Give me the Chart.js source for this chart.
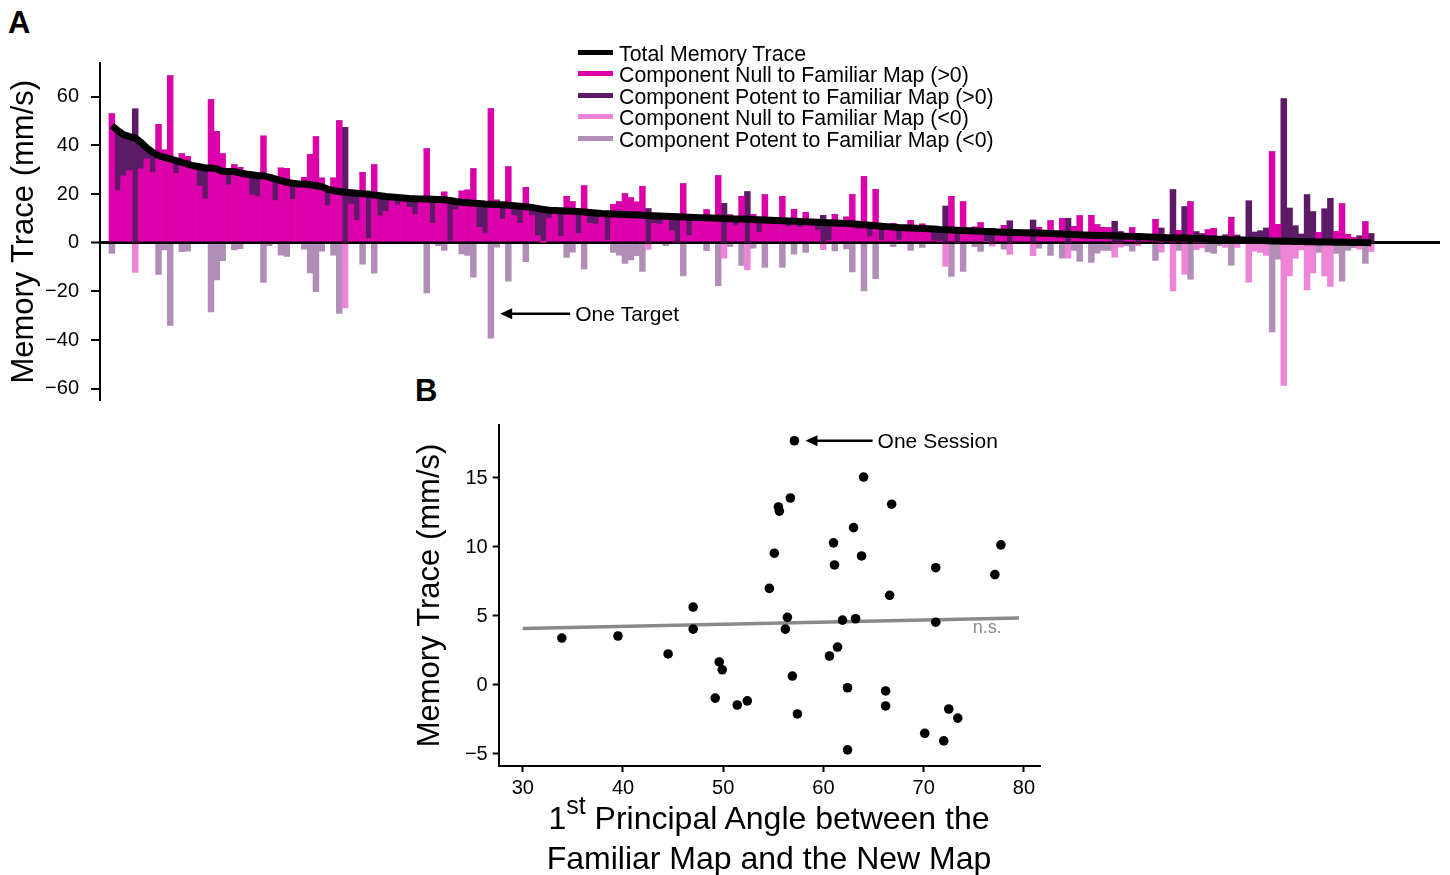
<!DOCTYPE html>
<html>
<head>
<meta charset="utf-8">
<title>Memory trace</title>
<script src="https://cdn.jsdelivr.net/npm/chart.js@4.4.1/dist/chart.umd.min.js"></script>
<style>
  html, body { margin: 0; padding: 0; background: #fff; }
  body { width: 1450px; height: 875px; overflow: hidden; position: relative;
         font-family: 'Liberation Sans', Arial, sans-serif; color: #000; }
  #chartA { position: absolute; left: 0; top: 0; }
  #chartB { position: absolute; left: 400px; top: 390px; }
  .letter { position: absolute; font-weight: bold; font-size: 31px; line-height: 1; }
  #legendA { position: absolute; left: 578px; top: 43.5px; font-size: 21.3px; line-height: 21.5px; }
  #legendA div { white-space: nowrap; }
  #legendA span.sw { display: inline-block; width: 35px; height: 5px; margin-right: 6px; vertical-align: 6px; }
  #xTitleB { position: absolute; left: 498px; width: 542px; top: 799px; text-align: center;
             font-size: 32px; line-height: 38px; white-space: nowrap; }
  #xTitleB sup { font-size: 25px; vertical-align: baseline; position: relative; top: -15px; }
</style>
</head>
<body>

<div class="letter" style="left:8px; top:7px;">A</div>
<div class="letter" style="left:415px; top:375px;">B</div>

<canvas id="chartA" width="1450" height="440"></canvas>
<canvas id="chartB" width="660" height="420"></canvas>

<div id="legendA"></div>
<div id="xTitleB"><span>1<sup>st</sup> Principal Angle between the</span><br><span>Familiar Map and the New Map</span></div>

<script>
// ---- panel A : one bar per target, sorted by total memory trace ----
var nullComp = [
  52.9, 21.4, 27.5, 29.6, -12.2, 30.3, 34.4, 28.9, 48.5, 38,
  68.5, 28.5, 36.5, 35.5, 31.6, 23.4, 18, 58.8, 45.6, 36.5,
  23.8, 32, 30.8, 28.2, 19.7, 18.9, 43.8, 28, 17.3, 30.6,
  30.4, 17.8, 22.7, 26.8, 36.2, 43.5, 26.5, 15.2, 26.5, 50,
  -26.8, 15.9, 9.3, 28.9, 1.8, 32, 11, 12.9, 18.8, 15.6,
  18.4, 14.5, 11.5, 18, 38.5, 8, 18.9, 20.8, 0.8, 13.6,
  21.2, 21.6, 30.3, 6.3, 3.8, 55, 17.5, 9.7, 31.2, 11.1,
  8, 22.6, 11.1, 2.9, 0.1, 10.1, 13.2, 2.6, 19, 16.8,
  3.8, 23.4, 7.9, 7.7, 12, 1.1, 15.8, 16.8, 20.1, 18.4,
  16.7, 23, -2.8, 7.9, 7.7, 12.1, 4.9, 0, 24.2, 2.9,
  10.4, 10.3, 13.5, 10.1, 27.6, -6.3, 11.4, 7, 19, -11.2,
  11.5, 4.2, 19.7, 9.2, 9.1, 18.9, 6.6, 13.6, 6.3, 12.5,
  8.5, 5.2, -2.9, 1, 11.5, 8, 10.5, 19.8, 5.6, 27.2,
  2.5, 21.8, 1.1, 6.6, 8, 1.1, 6.1, 9.2, 5.9, 7.7,
  5.7, 0.8, 0.4, -9.7, 19, 0, 16.8, 4.9, 6.4, 8.2,
  0.5, -1.4, 4.4, 7, -4.8, 4.2, 4.1, 4.1, -5.3, 6.2,
  3.9, 9, 3.7, 9.9, -6.4, 6.6, 11, 3.2, 11.1, 7.3,
  6.2, 6.1, -5.9, -1.8, 3.9, 6.1, -1.2, 2.4, 2.3, 9.5,
  -3.9, 2, -19.8, 5.1, -12.9, 16.8, -2.9, -2.1, 5.3, 5.9,
  2.6, -1.9, 10.4, -1.9, 1.1, -16.2, -3.5, -4, -5.2, 37.3,
  7.5, -58.6, -13.6, -6.4, -3, -19.4, -12.4, 4.3, -13.6, -17.9,
  4.6, 16, 3.4, 2.1, -2.7, 8.6, -3.7
];
var potentComp = [
  -4.4, 24.6, 16.9, 14, 55, 10.9, 4.5, 8.2, -13, -3,
  -34, 5.2, -3.7, -3.5, 0, 7.8, 12.7, -28.4, -15.3, -7.4,
  5.4, -3, -2.4, 0, 8.2, 8.6, -16.3, -1.2, 8.9, -5.1,
  -5.6, 6.6, 1.4, -2.7, -12.4, -20.1, -3.5, 6.8, -5.1, -29,
  47.4, 4.6, 11, -8.8, 18.2, -12.5, 8.3, 6.1, 0, 3,
  0, 3.7, 6.6, 0, -20.6, 9.8, -1.2, -3.2, 16.5, 3.3,
  -4.6, -5.2, -14.1, 9.8, 12.1, -39.2, -1.8, 5.9, -15.8, 4.1,
  7, -7.8, 3.4, 11.2, 13.6, 3.2, 0, 10.5, -6, -3.9,
  9, -10.8, 4.5, 4.5, 0, 10.8, -4, -5.1, -8.5, -7.1,
  -5.3, -11.8, 14, 3.2, 3.3, -1.2, 5.9, 10.7, -13.6, 7.6,
  0, 0, -3.3, 0, -17.6, 16.2, -1.6, 2.7, -9.3, 21,
  -2.2, 5.2, -10.1, 0, 0, -10.1, 2.3, -4.7, 2.4, -4,
  0, 3.2, 11.2, 7.2, -3.4, 0, -2.6, -12, 2, -19.8,
  4.7, -14.8, 5.7, 0, -1.6, 5.1, 0, -3.2, 0, -1.9,
  0, 4.8, 5, 15, -13.8, 5.1, -11.8, 0, -1.6, -3.6,
  4.1, 5.9, 0, -2.7, 9, 0, 0, 0, 9.3, -2.2,
  0, -5.2, 0, -6.3, 10, -3.2, -7.7, 0, -8.1, -4.3,
  -3.2, -3.2, 8.8, 4.6, -1.2, -3.5, 3.7, 0, 0, -7.3,
  6, 0, 21.8, -3.2, 14.8, -15, 4.6, 3.7, -3.8, -4.4,
  -1.2, 3.2, -9.2, 3.1, 0, 17.2, 4.4, 4.9, 6, -36.6,
  -6.8, 59.2, 14.2, 6.9, 3.5, 19.8, 12.8, -4, 13.9, 18.2,
  -4.4, -15.8, -3.2, -2, 2.8, -8.5, 3.7
];
var totalTrace = [
  48.1, 46, 44.4, 43.6, 43, 41.2, 38.9, 37.1, 35.8, 35,
  34.4, 33.7, 33, 32.3, 31.6, 31.2, 30.7, 30.7, 30.3, 29.3,
  29.2, 29.2, 28.6, 28.2, 27.9, 27.5, 27.5, 26.8, 26.2, 25.5,
  24.8, 24.4, 24.1, 24.1, 23.8, 23.4, 23, 22, 21.4, 21,
  20.7, 20.5, 20.3, 20.1, 20, 19.6, 19.3, 19, 18.8, 18.6,
  18.4, 18.2, 18.1, 18, 17.9, 17.8, 17.7, 17.6, 17.3, 16.9,
  16.6, 16.4, 16.2, 16.1, 15.9, 15.8, 15.7, 15.6, 15.4, 15.2,
  15, 14.8, 14.5, 14.1, 13.7, 13.3, 13.2, 13.1, 13, 12.9,
  12.8, 12.6, 12.4, 12.2, 12, 11.9, 11.8, 11.7, 11.6, 11.5,
  11.4, 11.3, 11.2, 11.1, 11, 10.9, 10.8, 10.7, 10.6, 10.5,
  10.4, 10.3, 10.2, 10.1, 10, 9.9, 9.8, 9.7, 9.7, 9.6,
  9.5, 9.4, 9.3, 9.2, 9.1, 9, 8.9, 8.8, 8.7, 8.6,
  8.5, 8.4, 8.3, 8.2, 8.1, 8, 7.9, 7.8, 7.6, 7.4,
  7.2, 7, 6.8, 6.6, 6.4, 6.2, 6.1, 6, 5.9, 5.8,
  5.7, 5.6, 5.4, 5.3, 5.2, 5.1, 5, 4.9, 4.8, 4.7,
  4.6, 4.5, 4.4, 4.3, 4.2, 4.2, 4.1, 4.1, 4, 4,
  3.9, 3.8, 3.7, 3.6, 3.5, 3.4, 3.3, 3.2, 3.1, 3,
  3, 2.9, 2.9, 2.8, 2.7, 2.6, 2.5, 2.4, 2.3, 2.2,
  2.1, 2, 2, 1.9, 1.9, 1.8, 1.7, 1.6, 1.5, 1.5,
  1.4, 1.3, 1.2, 1.2, 1.1, 1, 0.9, 0.9, 0.8, 0.7,
  0.7, 0.6, 0.6, 0.5, 0.5, 0.4, 0.4, 0.3, 0.3, 0.3,
  0.2, 0.2, 0.2, 0.1, 0.1, 0.1, 0
];
var yTicksA = [-60, -40, -20, 0, 20, 40, 60];

// ---- panel B : one point per session ----
var angleDeg = [33.9, 39.5, 44.5, 47.0, 47.0, 49.6, 49.9, 49.2, 51.4, 52.4,
                54.6, 55.1, 55.5, 55.6, 56.7, 57.1, 56.4, 56.2, 56.9, 57.4,
                60.6, 61.0, 61.1, 61.4, 61.9, 62.4, 62.4, 63.0, 63.2, 63.8,
                64.0, 66.2, 66.2, 66.6, 66.8, 70.1, 71.2, 71.2, 72.0, 72.5,
                73.4, 77.1, 77.7];
var sessionTrace = [3.4, 3.55, 2.25, 5.65, 4.05, 1.67, 1.1, -0.95, -1.45, -1.15,
                    7.0, 9.55, 12.9, 12.6, 13.55, 17.7, 4.9, 4.05, 0.65, -2.1,
                    2.1, 10.3, 8.7, 2.75, 4.7, -0.2, -4.7, 11.4, 4.8, 9.35,
                    15.07, -0.43, -1.52, 6.5, 13.1, -3.5, 8.5, 4.55, -4.05, -1.74,
                    -2.4, 8.0, 10.15];
var fitAngle = [30, 79.5];
var fitTrace = [4.1, 4.85];
var xTicksB = [30, 40, 50, 60, 70, 80];
var yTicksB = [-5, 0, 5, 10, 15];

var colNullPos = '#dc00ab';
var colPotentPos = '#5d1a66';
var colNullNeg = '#ee84d8';
var colPotentNeg = '#b08eb6';

Chart.defaults.font.family = "'Liberation Sans', Arial, sans-serif";
Chart.defaults.color = '#000';

// keep only one sign of a component, the other becomes 0 in the stack
function signPart(values, sign) {
  return values.map(function(v, i) {
    var keep = sign > 0 ? v > 0 : v < 0;
    return {x: i, y: keep ? v : 0};
  });
}

function fixedTicks(list) {
  return function(scale) {
    scale.ticks = list.map(function(v) { return {value: v}; });
  };
}

// real minus sign like the original figure
function minusLabel(v) {
  return String(v).replace('-', '\u2212');
}

// arrows and small labels placed in data coordinates
var notesPlugin = {
  id: 'notes',
  afterDraw: function(chart, args, opts) {
    var ctx = chart.ctx;
    var xs = chart.scales.x, ys = chart.scales.y;
    (opts.items || []).forEach(function(n) {
      var y = ys.getPixelForValue(n.y);
      var tx;
      ctx.save();
      if (n.tipX !== undefined) {
        var tip = xs.getPixelForValue(n.tipX);
        var tail = xs.getPixelForValue(n.tailX);
        ctx.strokeStyle = '#000';
        ctx.fillStyle = '#000';
        ctx.lineWidth = 2.5;
        ctx.beginPath();
        ctx.moveTo(tip + 8, y);
        ctx.lineTo(tail, y);
        ctx.stroke();
        ctx.beginPath();
        ctx.moveTo(tip, y);
        ctx.lineTo(tip + 12, y - 5.5);
        ctx.lineTo(tip + 12, y + 5.5);
        ctx.closePath();
        ctx.fill();
        tx = tail + 5;
      } else {
        tx = xs.getPixelForValue(n.x);
      }
      ctx.fillStyle = n.color || '#000';
      ctx.font = (n.size || 21) + "px 'Liberation Sans', Arial, sans-serif";
      ctx.textBaseline = 'alphabetic';
      ctx.textAlign = 'left';
      ctx.fillText(n.text, tx, y + (n.dy || 0));
      ctx.restore();
    });
  }
};

var datasetsA = [
  {type: 'line', label: 'Total Memory Trace', stack: 'total', order: 0,
   data: totalTrace.map(function(v, i) { return {x: i, y: v}; }),
   borderColor: '#000', borderWidth: 7, pointRadius: 0, borderCapStyle: 'butt'},
  {label: 'Component Null to Familiar Map (>0)', order: 1, data: signPart(nullComp, 1), backgroundColor: colNullPos},
  {label: 'Component Potent to Familiar Map (>0)', order: 1, data: signPart(potentComp, 1), backgroundColor: colPotentPos},
  {label: 'Component Null to Familiar Map (<0)', order: 1, data: signPart(nullComp, -1), backgroundColor: colNullNeg},
  {label: 'Component Potent to Familiar Map (<0)', order: 1, data: signPart(potentComp, -1), backgroundColor: colPotentNeg}
];

var chartA = new Chart(document.getElementById('chartA'), {
  type: 'bar',
  data: {datasets: datasetsA},
  plugins: [notesPlugin],
  options: {
    responsive: false,
    animation: false,
    devicePixelRatio: 1,
    layout: {padding: {top: 62.5, right: 10, bottom: 39, left: 0}},
    datasets: {bar: {categoryPercentage: 1, barPercentage: 1, grouped: false, borderWidth: 0}},
    plugins: {
      legend: {display: false},
      tooltip: {enabled: false},
      notes: {items: [{text: 'One Target', tipX: 66.6, tailX: 78.6, y: -29.2, dy: 7.5}]}
    },
    scales: {
      x: {type: 'linear', display: false, offset: false, grid: {offset: false}, min: -2.04, max: 227.8},
      y: {
        stacked: true, min: -65, max: 74, z: 1,
        afterFit: function(s) { s.width = 100; },
        afterBuildTicks: fixedTicks(yTicksA),
        border: {display: true, color: '#000', width: 2},
        grid: {
          color: function(c) { return c.tick && c.tick.value === 0 ? '#000' : 'rgba(0,0,0,0)'; },
          lineWidth: function(c) { return c.tick && c.tick.value === 0 ? 3 : 0; },
          tickColor: '#000', tickWidth: 2, tickLength: 9
        },
        ticks: {font: {size: 20}, color: '#000', padding: 12, callback: minusLabel},
        title: {display: true, text: 'Memory Trace (mm/s)', font: {size: 31}, color: '#000', padding: {top: 6, bottom: 0}}
      }
    }
  }
});

// legend for panel A, same order and colours as the datasets
var legendA = document.getElementById('legendA');
datasetsA.forEach(function(ds) {
  var row = document.createElement('div');
  var sw = document.createElement('span');
  sw.className = 'sw';
  sw.style.background = ds.type === 'line' ? ds.borderColor : ds.backgroundColor;
  row.appendChild(sw);
  row.appendChild(document.createTextNode(ds.label));
  legendA.appendChild(row);
});

var chartB = new Chart(document.getElementById('chartB'), {
  type: 'scatter',
  data: {
    datasets: [
      {label: 'Sessions', order: 0,
       data: angleDeg.map(function(a, i) { return {x: a, y: sessionTrace[i]}; }),
       backgroundColor: '#000', borderWidth: 0, pointRadius: 4.8},
      {type: 'line', label: 'Linear fit', order: 1,
       data: fitAngle.map(function(a, i) { return {x: a, y: fitTrace[i]}; }),
       borderColor: '#8a8a8a', borderWidth: 3.5, pointRadius: 0}
    ]
  },
  plugins: [notesPlugin],
  options: {
    responsive: false,
    animation: false,
    devicePixelRatio: 1,
    layout: {padding: {top: 35, right: 20, bottom: 0, left: 0}},
    plugins: {
      legend: {display: false},
      tooltip: {enabled: false},
      notes: {items: [
        {text: 'One Session', tipX: 58.2, tailX: 64.9, y: 17.7, dy: 7},
        {text: 'n.s.', x: 74.9, y: 3.77, color: '#8a8a8a', size: 18}
      ]}
    },
    scales: {
      x: {
        type: 'linear', min: 27.6, max: 81.6,
        afterFit: function(s) { s.height = 44; },
        afterBuildTicks: fixedTicks(xTicksB),
        border: {display: true, color: '#000', width: 2},
        grid: {drawOnChartArea: false, tickColor: '#000', tickWidth: 2, tickLength: 6},
        ticks: {font: {size: 20}, color: '#000', padding: 4, maxRotation: 0}
      },
      y: {
        min: -5.87, max: 18.84,
        afterFit: function(s) { s.width = 98.7; },
        afterBuildTicks: fixedTicks(yTicksB),
        border: {display: true, color: '#000', width: 2},
        grid: {drawOnChartArea: false, tickColor: '#000', tickWidth: 2, tickLength: 6},
        ticks: {font: {size: 20}, color: '#000', padding: 5, callback: minusLabel},
        title: {display: true, text: 'Memory Trace (mm/s)', font: {size: 31}, color: '#000', padding: {top: 12, bottom: 0}}
      }
    }
  }
});
</script>
</body>
</html>
